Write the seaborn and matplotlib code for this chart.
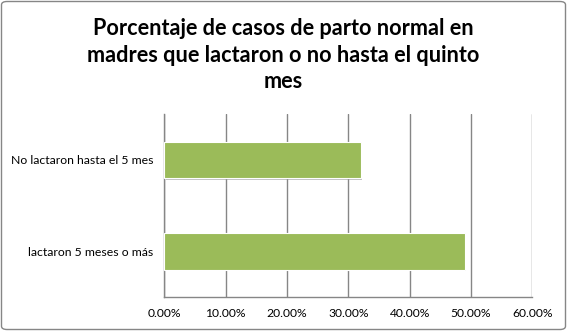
import matplotlib
matplotlib.use("Agg")
import matplotlib.pyplot as plt
import seaborn as sns
import pandas as pd
from matplotlib.ticker import FuncFormatter, MultipleLocator
from matplotlib.patches import FancyBboxPatch
import matplotlib.patheffects as pe

categories = ["No lactaron hasta el 5 mes", "lactaron 5 meses o más"]
values = [0.32, 0.49]
title = "Porcentaje de casos de parto normal en\nmadres que lactaron o no hasta el quinto\nmes"

sns.set_style("white")
plt.rcParams['font.family'] = ['Lato', 'DejaVu Sans']

W, H = 567, 331
fig = plt.figure(figsize=(W/100, H/100), dpi=100)
ax = fig.add_axes([164.3/W, 1-297/H, (532.3-164.3)/W, (297-114.3)/H])

df = pd.DataFrame({"cat": categories, "val": values})
sns.barplot(data=df, y="cat", x="val", orient="h", color="#9BBB59", saturation=1,
            width=0.4, ax=ax, edgecolor="white", linewidth=0.8, zorder=3)
for p in ax.patches:
    p.set_path_effects([pe.SimplePatchShadow(offset=(1.2, -1.2), shadow_rgbFace="#9a9a9a", alpha=0.6), pe.Normal()])

ax.set_xlim(0, 0.6)
ax.set_ylim(1.5, -0.5)
ax.xaxis.set_major_locator(MultipleLocator(0.1))
ax.xaxis.set_major_formatter(FuncFormatter(lambda v, _: f"{v*100:.2f}%"))
ax.set_yticks([-0.5, 0.5, 1.5], minor=False)
ax.set_yticklabels(["", "", ""])
ax.set_yticks([0, 1], minor=True)
ax.set_yticklabels(categories, minor=True)
ax.tick_params(axis="y", which="minor", length=0, pad=8, labelsize=8.8, labelcolor="#000000")
ax.tick_params(axis="y", which="major", length=4, width=1, color="#868686", direction="out")
ax.tick_params(axis="x", length=4, width=1, color="#868686", direction="out", labelsize=8.7, pad=4)
ax.set_xlabel("")
ax.set_ylabel("")
ax.grid(axis="x", color="#868686", linewidth=1, zorder=0)
ax.grid(axis="y", visible=False)
ax.set_axisbelow(True)
for s in ["top", "right"]:
    ax.spines[s].set_visible(False)
for s in ["left", "bottom"]:
    ax.spines[s].set_color("#868686")
    ax.spines[s].set_linewidth(1)
for lab in ax.get_xticklabels():
    lab.set_color("#000000")

fig.text(0.5, 1-55/H, title, ha="center", va="center", fontsize=15.6, fontweight="bold",
         linespacing=1.35, color="#000000")

border = FancyBboxPatch((1.5/W, 1.5/H), 1-3/W, 1-3/H, boxstyle="round,pad=0,rounding_size=0.01",
                        transform=fig.transFigure, fill=False, edgecolor="#868686", linewidth=1)
fig.patches.append(border)

fig.savefig("out.png", dpi=100)
